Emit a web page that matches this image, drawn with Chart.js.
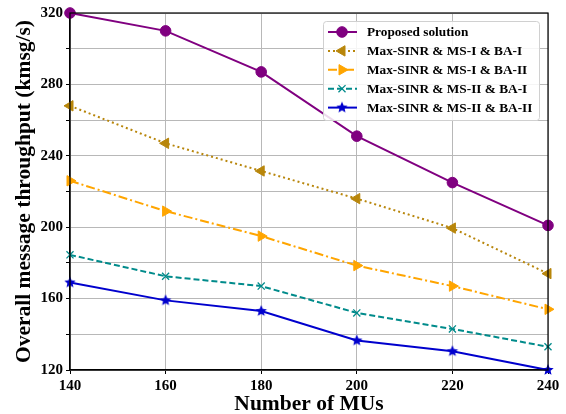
<!DOCTYPE html>
<html><head><meta charset="utf-8">
<script src="https://cdn.jsdelivr.net/npm/chart.js@4/dist/chart.umd.min.js"></script>
<style>html,body{margin:0;padding:0;background:#fff}#wrap{width:566px;height:414px}</style>
</head><body><div id="wrap"><canvas id="c" width="566" height="414"></canvas></div>
<script>
const categories = [140, 160, 180, 200, 220, 240];
const proposed = [320, 310, 287, 251, 225, 201];
const ms1ba1 = [268, 247, 231.5, 216, 199.5, 174];
const ms1ba2 = [226, 209, 195, 178.5, 167, 154];
const ms2ba1 = [184.5, 172.5, 167, 152, 143, 133];
const ms2ba2 = [169, 159, 153, 136.5, 130.5, 120];
const yTicks = [120, 160, 200, 240, 280, 320];
const seriesNames = ['Proposed solution','Max-SINR & MS-I & BA-I','Max-SINR & MS-I & BA-II','Max-SINR & MS-II & BA-I','Max-SINR & MS-II & BA-II'];
const axisTitles = {x:'Number of MUs', y:'Overall message throughput (kmsg/s)'};

function makeStar(color, r){
  const s = Math.ceil(r*2+2);
  const cv = document.createElement('canvas'); cv.width = s; cv.height = s;
  const g = cv.getContext('2d'); const c = s/2;
  g.beginPath();
  for(let i=0;i<10;i++){
    const rr = i%2===0 ? r : r*0.45;
    const a = -Math.PI/2 + i*Math.PI/5;
    const px = c + rr*Math.cos(a), py = c + rr*Math.sin(a);
    i===0 ? g.moveTo(px,py) : g.lineTo(px,py);
  }
  g.closePath(); g.fillStyle = color; g.fill();
  return cv;
}
const starImg = makeStar('#0000cd', 6);

const FONT = "'Liberation Serif','Times New Roman',serif";
const pts = arr => arr.map((v,i)=>({x:categories[i], y:v}));

const datasets = [
  {label:seriesNames[0], data:pts(proposed), borderColor:'#800080', backgroundColor:'#800080', borderWidth:2,
   pointStyle:'circle', pointRadius:5.3, pointBorderWidth:1, borderDash:[]},
  {label:seriesNames[1], data:pts(ms1ba1), borderColor:'#b8860b', backgroundColor:'#b8860b', borderWidth:2,
   pointStyle:'triangle', pointRotation:-90, pointRadius:6, pointBorderWidth:1, borderDash:[2,3]},
  {label:seriesNames[2], data:pts(ms1ba2), borderColor:'#ffa500', backgroundColor:'#ffa500', borderWidth:2,
   pointStyle:'triangle', pointRotation:90, pointRadius:6, pointBorderWidth:1, borderDash:[9,3,2,3]},
  {label:seriesNames[3], data:pts(ms2ba1), borderColor:'#008b8b', backgroundColor:'#008b8b', borderWidth:2,
   pointStyle:'crossRot', pointRadius:5, pointBorderWidth:1.3, borderDash:[6,3]},
  {label:seriesNames[4], data:pts(ms2ba2), borderColor:'#0000cd', backgroundColor:'#0000cd', borderWidth:2,
   pointStyle:starImg, pointRadius:6, borderDash:[]}
];
datasets.forEach(d=>{d.fill=false; d.tension=0; d.pointHoverRadius=d.pointRadius; d.clip=false; d.pointBorderColor=d.borderColor; d.pointBackgroundColor=d.backgroundColor;});

const frame = {
  id:'frame',
  afterDatasetsDraw(chart){
    const {ctx, chartArea:a} = chart;
    ctx.save(); ctx.strokeStyle='#000'; ctx.lineWidth=1.2;
    ctx.strokeRect(a.left, a.top, a.right-a.left, a.bottom-a.top);
    ctx.restore();
  }
};

const legendPlugin = {
  id:'customLegend',
  afterDraw(chart){
    const ctx = chart.ctx;
    const x0 = 323, y0 = 21, w = 216, h = 99;
    ctx.save();
    ctx.fillStyle='rgba(255,255,255,0.85)';
    ctx.strokeStyle='#d0d0d0'; ctx.lineWidth=1;
    ctx.beginPath();
    if (ctx.roundRect) ctx.roundRect(x0+0.5,y0+0.5,w,h,3); else ctx.rect(x0+0.5,y0+0.5,w,h);
    ctx.fill(); ctx.stroke();
    chart.data.datasets.forEach((d,i)=>{
      const y = 32 + i*18.9;
      ctx.save();
      ctx.strokeStyle=d.borderColor; ctx.lineWidth=d.borderWidth; ctx.setLineDash(d.borderDash||[]);
      ctx.beginPath(); ctx.moveTo(328,y); ctx.lineTo(357,y); ctx.stroke();
      ctx.restore();
      const opts = {pointStyle:d.pointStyle, rotation:d.pointRotation||0, radius:d.pointRadius, borderWidth:d.pointBorderWidth||1};
      ctx.save();
      ctx.fillStyle=d.backgroundColor; ctx.strokeStyle=d.borderColor; ctx.lineWidth=opts.borderWidth;
      Chart.helpers.drawPoint(ctx, opts, 342, y);
      ctx.restore();
      ctx.fillStyle='#000'; ctx.font='bold 13.3px '+FONT; ctx.textBaseline='middle'; ctx.textAlign='left';
      ctx.fillText(d.label, 367, y+0.5);
    });
    ctx.restore();
  }
};

new Chart(document.getElementById('c'), {
  type:'line',
  data:{datasets},
  plugins:[frame, legendPlugin],
  options:{
    responsive:false, animation:false,
    layout:{padding:{top:13, right:18, left:0, bottom:0}},
    plugins:{legend:{display:false}, tooltip:{enabled:false}},
    scales:{
      x:{type:'linear', min:categories[0], max:categories[categories.length-1],
        afterBuildTicks(s){ s.ticks = categories.map(v=>({value:v})); },
        grid:{color:'#b8b8b8', lineWidth:1, tickLength:4, tickColor:'#000', drawTicks:true},
        border:{color:'#000', width:1.2},
        ticks:{color:'#000', font:{family:FONT, size:15, weight:'bold'}, padding:3, maxRotation:0},
        title:{display:true, text:axisTitles.x, color:'#000', font:{family:FONT, size:21.5, weight:'bold', lineHeight:0.85}, padding:{top:3,bottom:0}},
        afterFit(s){ s.height = 44; }
      },
      y:{type:'linear', min:120, max:320,
        ticks:{stepSize:20, color:'#000', font:{family:FONT, size:15, weight:'bold'}, padding:3,
          callback:v=> yTicks.includes(v) ? String(v) : ''},
        grid:{color:'#b8b8b8', lineWidth:1, tickLength:4, tickColor:'#000'},
        border:{color:'#000', width:1.2},
        title:{display:true, text:axisTitles.y, color:'#000', font:{family:FONT, size:21.5, weight:'bold'}, padding:{top:12,bottom:0}},
        afterFit(s){ s.width = 70; }
      }
    }
  }
});
</script></body></html>
